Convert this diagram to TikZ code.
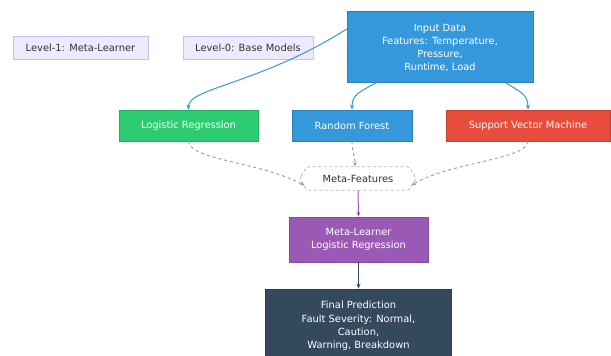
\documentclass[tikz,border=0pt]{standalone}
\usepackage{fontspec}
\setmainfont{DejaVu Sans}
\usetikzlibrary{arrows.meta}
\definecolor{inblue}{HTML}{3498DB}
\definecolor{lrgreen}{HTML}{2ECC71}
\definecolor{svmred}{HTML}{E74C3C}
\definecolor{metapurple}{HTML}{9B59B6}
\definecolor{finalslate}{HTML}{34495E}
\definecolor{legfill}{HTML}{ECEBFD}
\definecolor{legline}{HTML}{CDBDF2}
\definecolor{txtgray}{HTML}{333333}
\definecolor{dashgray}{HTML}{7F8C8D}
\tikzset{
  every node/.style={font=\fontsize{9.9}{13.3}\selectfont, align=center, inner sep=0pt},
  legend/.style={draw=legline, fill=legfill, line width=0.8pt, text=txtgray},
  box/.style={draw=#1!85!black, fill=#1, line width=0.6pt, text=white},
  feed/.style={draw=inblue, line width=1pt, -{Stealth[length=5pt,width=4pt]}},
  meta/.style={draw=dashgray!80, line width=1pt, dashed, dash pattern=on 3pt off 3pt, -{Stealth[length=5pt,width=4pt]}},
  flow/.style={line width=1pt, -{Stealth[length=5pt,width=4pt]}}
}
\begin{document}
\begin{tikzpicture}[x=1pt,y=-1pt]
\useasboundingbox (0,0) rectangle (611,356);
\clip (0,0) rectangle (611,356);
\fill[white] (0,0) rectangle (611,356);

% legend tags
\node[legend, minimum width=135pt, minimum height=23pt] (lev1) at (80.5,47.5) {Level-1: Meta-Learner};
\node[legend, minimum width=130pt, minimum height=23pt] (lev0) at (248,47.5) {Level-0: Base Models};

% input
\node[box=inblue, minimum width=186pt, minimum height=71pt] (input) at (440,46.5) {};
\node[text=white] (inputtxt) at (440,48) {Input Data\\Features: Temperature,\\Pressure,\\Runtime, Load};

% base models
\node[box=lrgreen, minimum width=139pt, minimum height=31pt] (lr) at (188.5,125.5) {Logistic Regression};
\node[box=inblue, minimum width=120pt, minimum height=31pt] (rf) at (352,125.5) {Random Forest};
\node[box=svmred, minimum width=164pt, minimum height=31pt] (svm) at (528,125.5) {Support Vector Machine};

% meta-features hexagon
\node[text=txtgray, minimum width=116pt, minimum height=23pt] (mf) at (358,178.5) {Meta-Features};
\draw[draw=gray!55, line width=0.8pt, dashed, dash pattern=on 3pt off 2.5pt, rounded corners=2.5pt]
  (mf.west) -- ([xshift=7pt]mf.north west) -- ([xshift=-7pt]mf.north east) -- (mf.east)
  -- ([xshift=-7pt]mf.south east) -- ([xshift=7pt]mf.south west) -- cycle;

% meta-learner and result
\node[box=metapurple, minimum width=139pt, minimum height=45pt] (ml) at (358.5,239.5) {Meta-Learner\\Logistic Regression};
\node[box=finalslate, minimum width=186pt, minimum height=74pt, text depth=0pt] (final) at (358.5,326) {};
\node[text=white] (finaltxt) at (358.5,326) {Final Prediction\\Fault Severity: Normal,\\Caution,\\Warning, Breakdown};

% feeds from the input
\draw[feed] ([yshift=17.5pt]input.west) .. controls (260,84) and (188,88) .. (lr.north);
\draw[feed] ([xshift=-63pt]input.south) .. controls (360,92) and (352,94) .. (rf.north);
\draw[feed] ([xshift=65pt]input.south) .. controls (520,92) and (528,94) .. (svm.north);

% predictions into the meta-features
\draw[meta] (lr.south) .. controls (190,160) and (260,162) .. ([xshift=5pt,yshift=-7pt]mf.west);
\draw[meta] (rf.south) .. controls (352,152) and (355,156) .. ([xshift=-3pt]mf.north);
\draw[meta] (svm.south) .. controls (526,160) and (450,162) .. ([xshift=-5pt,yshift=-7pt]mf.east);

% stacking chain
\draw[flow, draw=metapurple] (mf.south) -- (ml.north);
\draw[flow, draw=finalslate] (ml.south) -- (final.north);
\end{tikzpicture}
\end{document}
